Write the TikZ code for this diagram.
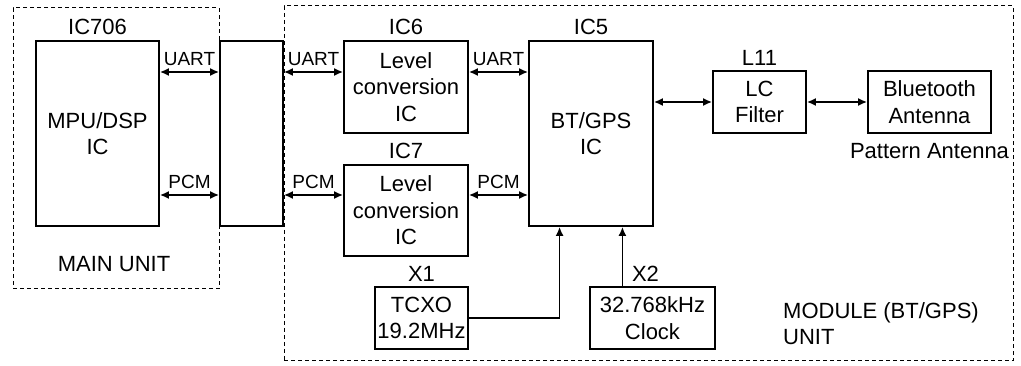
\documentclass[tikz,border=0pt]{standalone}
\usepackage{fontspec}
\setmainfont{Liberation Sans}
\usetikzlibrary{arrows.meta, positioning, calc}

\begin{document}
\begin{tikzpicture}[
      x=1pt, y=1pt,
      font={\fontsize{22}{26.5}\selectfont},
      blk/.style={draw, line width=1.7pt, align=center, inner sep=0pt},
      unit/.style={draw, line width=1pt, dash pattern=on 4pt off 3pt, inner sep=0pt},
      tag/.style={inner sep=0pt},
      sig/.style={font={\fontsize{19}{22}\selectfont}, inner sep=0pt, midway, above=5pt},
      arr/.style={{Latex[length=9pt,width=8pt]}-{Latex[length=9pt,width=8pt]}, line width=1.8pt},
      feed/.style={-{Latex[length=9pt,width=8pt]}, line width=1.8pt},
    ]
      \useasboundingbox (0,0) rectangle (1021,366);

      \node[unit, minimum width=206pt, minimum height=281pt] (main) at (116,217.5) {};
      \node[unit, minimum width=729pt, minimum height=355pt] (module) at (648.5,182.5) {};

      \node[blk, minimum width=123pt, minimum height=185pt] (mpu) at (97.5,232.5) {MPU/DSP\\IC};
      \node[blk, minimum width=63pt, minimum height=185pt] (conn) at (251.5,232.5) {};
      \node[blk, minimum width=124pt, minimum height=92pt] (ic6) at (406,279) {Level\\conversion\\IC};
      \node[blk, minimum width=124pt, minimum height=91pt] (ic7) at (406,155.5) {Level\\conversion\\IC};
      \node[blk, minimum width=124pt, minimum height=185pt] (ic5) at (591,232.5) {BT/GPS\\IC};
      \node[blk, minimum width=93pt, minimum height=62pt] (x1) at (421.5,48) {TCXO\\19.2MHz};
      \node[blk, minimum width=125pt, minimum height=62pt] (x2) at (652.5,48) {32.768kHz\\Clock};
      \node[blk, minimum width=93pt, minimum height=62pt] (lc) at (759.5,264) {LC\\Filter};
      \node[blk, minimum width=123pt, minimum height=62pt] (bta) at (929.5,264) {Bluetooth\\Antenna};

      \node[tag, above=5pt of mpu] {IC706};
      \node[tag, above=5pt of ic6] {IC6};
      \node[tag, above=5pt of ic7] {IC7};
      \node[tag, above=5pt of ic5] {IC5};
      \node[tag, above=4pt of x1] {X1};
      \node[tag, above=4pt of x2, xshift=-7pt] {X2};
      \node[tag, above=4pt of lc] {L11};
      \node[tag, below=9pt of bta] {Pattern Antenna};
      \node[tag, anchor=base] (mainname) at (114,94) {MAIN UNIT};
      \node[tag, anchor=north west, align=left] (modname) at (783,64) {MODULE (BT/GPS)\\UNIT};

      \coordinate (uart) at (0,294);
      \coordinate (pcm) at (0,171);
      \coordinate (c1) at ($(ic5.south west)!0.25!(ic5.south east)$);
      \coordinate (c2) at ($(ic5.south west)!0.75!(ic5.south east)$);

      \draw[arr] (mpu.east |- uart) -- (conn.west |- uart) node[sig] {UART};
      \draw[arr] (mpu.east |- pcm) -- (conn.west |- pcm) node[sig] {PCM};
      \draw[arr] (conn.east |- uart) -- (ic6.west |- uart) node[sig] {UART};
      \draw[arr] (conn.east |- pcm) -- (ic7.west |- pcm) node[sig] {PCM};
      \draw[arr] (ic6.east |- uart) -- (ic5.west |- uart) node[sig] {UART};
      \draw[arr] (ic7.east |- pcm) -- (ic5.west |- pcm) node[sig] {PCM};

      \draw[feed] (x1.east) -| (c1);
      \draw[feed] (x2.north -| c2) -- (c2);

      \draw[arr] (ic5.east |- lc.west) -- (lc.west);
      \draw[arr] (lc) -- (bta);
    \end{tikzpicture}
\end{document}
